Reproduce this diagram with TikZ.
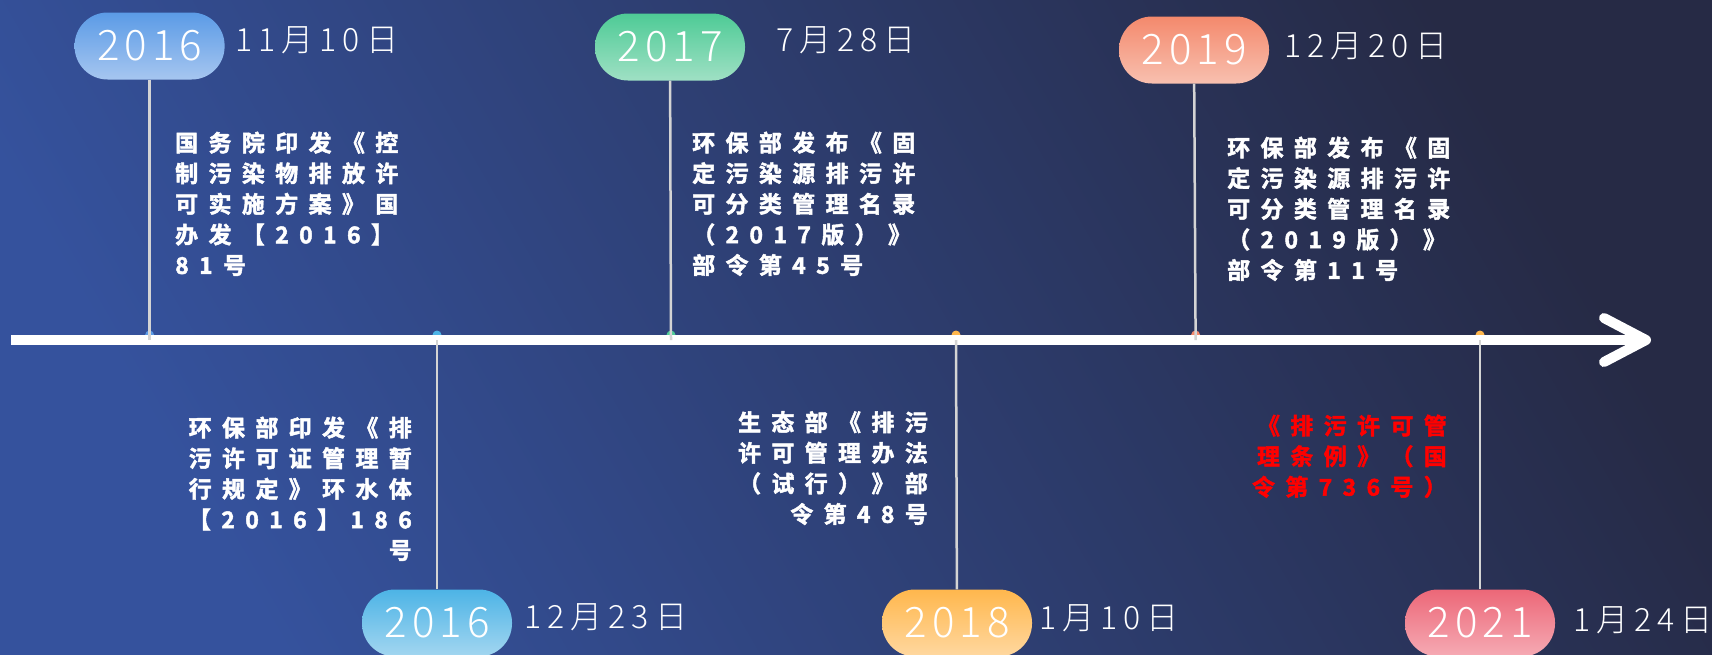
\documentclass[tikz,border=0pt]{standalone}
\usepackage{fontspec}
\usetikzlibrary{positioning,calc}
\newfontfamily\yearfont[LetterSpace=12]{Noto Sans CJK SC Light}
\newfontfamily\datefont[LetterSpace=19]{Noto Sans CJK SC Light}
\newfontfamily\descfont[LetterSpace=45,FakeBold=2]{Noto Sans CJK SC Bold}

\definecolor{bglight}{HTML}{35529D}
\definecolor{bgdark}{HTML}{262A45}
\definecolor{stemgray}{HTML}{D4D4D4}
\definecolor{lawred}{HTML}{FF0000}
\definecolor{blueA}{HTML}{5B9BE6}
\definecolor{blueB}{HTML}{A6C6F0}
\definecolor{skyA}{HTML}{4DB4E6}
\definecolor{skyB}{HTML}{A3D6F0}
\definecolor{greenA}{HTML}{4ECB96}
\definecolor{greenB}{HTML}{9FE0C4}
\definecolor{orangeA}{HTML}{FFB74D}
\definecolor{orangeB}{HTML}{FFD8A0}
\definecolor{salmonA}{HTML}{F4896C}
\definecolor{salmonB}{HTML}{F8C0B0}
\definecolor{roseA}{HTML}{EC6878}
\definecolor{roseB}{HTML}{F6AAB4}

\tikzset{
    %Define the timeline parts
    axisline/.style={
      draw=white,
      line width=10pt},
    chevron/.style={
      draw=white,
      line width=10pt,
      line cap=round,
      line join=round},
    stem/.style={
      draw=stemgray,
      line width=2.5pt},
    yearpill/.style={
      rectangle,
      rounded corners=33pt,
      minimum width=150pt,
      minimum height=67pt,
      inner sep=0pt,
      text=white,
      font=\yearfont\fontsize{42}{42}\selectfont},
    datelbl/.style={
      anchor=west,
      inner sep=0pt,
      text=white,
      font=\datefont\fontsize{32}{32}\selectfont},
    eventtxt/.style={
      inner sep=0pt,
      text=white,
      font=\descfont\fontsize{23}{30.6}\selectfont},
    dot/.style={
      circle,
      inner sep=0pt,
      minimum size=9pt}
}

\begin{document}
\begin{tikzpicture}[x=1pt,y=-1pt]
\useasboundingbox (0,0) rectangle (1712,654);
\shade[left color=bglight, right color=bgdark, shading angle=120] (0,0) rectangle (1712,654);

% points on the axis
\coordinate (a16a) at (149.6,340);
\coordinate (a16b) at (437,340);
\coordinate (a17) at (671,340);
\coordinate (a18) at (956,340);
\coordinate (a19) at (1195.6,340);
\coordinate (a21) at (1480,340);
\coordinate (start) at (11,340);
\coordinate (tip) at (1646,340);

\node[dot, fill=blueA] at ($(a16a)+(0,-5)$) {};
\node[dot, fill=skyA] at ($(a16b)+(0,-5)$) {};
\node[dot, fill=greenA] at ($(a17)+(0,-5)$) {};
\node[dot, fill=orangeA] at ($(a18)+(0,-5)$) {};
\node[dot, fill=salmonA] at ($(a19)+(0,-5)$) {};
\node[dot, fill=orangeA] at ($(a21)+(0,-5)$) {};

\draw[axisline] (start) -- ($(tip)+(-4,0)$);
\draw[chevron] ($(tip)+(-42,-22)$) -- (tip) -- ($(tip)+(-42,22)$);

% year pills
\node[yearpill, top color=blueA, bottom color=blueB] (y16a) at (149.6,46) {2016};
\node[yearpill, top color=skyA, bottom color=skyB] (y16b) at (437,623) {2016};
\node[yearpill, top color=greenA, bottom color=greenB] (y17) at (670,47) {2017};
\node[yearpill, top color=orangeA, bottom color=orangeB] (y18) at (957,623) {2018};
\node[yearpill, top color=salmonA, bottom color=salmonB] (y19) at (1194,50) {2019};
\node[yearpill, top color=roseA, bottom color=roseB] (y21) at (1480,623) {2021};

\draw[stem] (y16a) -- (a16a);
\draw[stem] (y16b) -- (a16b);
\draw[stem] (y17) -- (a17);
\draw[stem] (y18) -- (a18);
\draw[stem] (y19) -- (a19);
\draw[stem] (y21) -- (a21);

% dates
\node[datelbl] (d16a) at (235,40) {11月10日};
\node[datelbl] (d16b) at (524,617) {12月23日};
\node[datelbl] (d17) at (776,40) {7月28日};
\node[datelbl] (d18) at (1039,618) {1月10日};
\node[datelbl] (d19) at (1284,46) {12月20日};
\node[datelbl] (d21) at (1573,620) {1月24日};

% events
\node[eventtxt, anchor=north west, align=left] (t16a) at (175,131.5)
  {国务院印发《控\\制污染物排放许\\可实施方案》国\\办发【2016】\\81号};
\node[eventtxt, anchor=north east, align=right] (t16b) at (412,416.5)
  {环保部印发《排\\污许可证管理暂\\行规定》环水体\\【2016】186\\号};
\node[eventtxt, anchor=north west, align=left] (t17) at (692,131.5)
  {环保部发布《固\\定污染源排污许\\可分类管理名录\\（2017版）》\\部令第45号};
\node[eventtxt, anchor=north east, align=right] (t18) at (928,411)
  {生态部《排污\\许可管理办法\\（试行）》部\\令第48号};
\node[eventtxt, anchor=north west, align=left] (t19) at (1227,136.5)
  {环保部发布《固\\定污染源排污许\\可分类管理名录\\（2019版）》\\部令第11号};
\node[eventtxt, anchor=north east, align=right, text=lawred] (t21) at (1447,414.5)
  {《排污许可管\\理条例》（国\\令第736号）};
\end{tikzpicture}
\end{document}
